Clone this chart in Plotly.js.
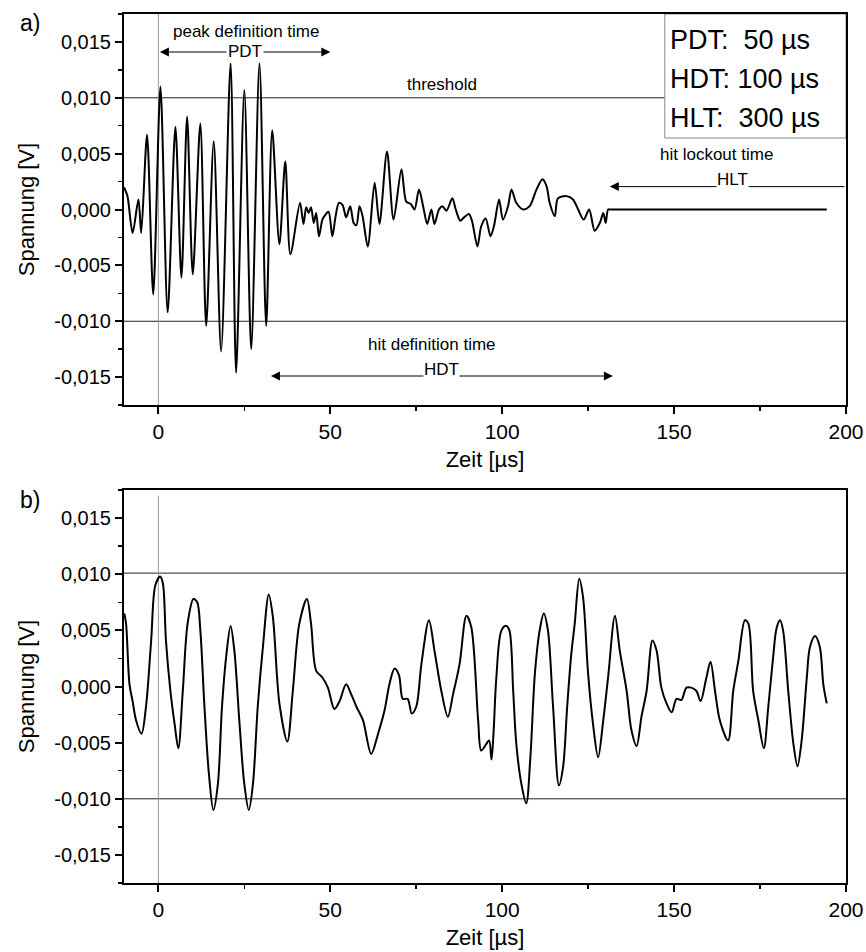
<!DOCTYPE html>
<html>
<head>
<meta charset="utf-8">
<script src="https://cdn.plot.ly/plotly-3.0.1.min.js"></script>
<style>html,body{margin:0;padding:0;background:#fff;}#chart{width:866px;height:952px;}</style>
</head>
<body>
<div id="chart"></div>
<script>
// ---- data ----
const t_a = [-10,-9,-7.5,-5.8,-5.0,-3.3,-1.5,0.6,2.7,4.95,6.7,8.35,10.0,12.2,13.9,16.1,18.25,21.0,22.6,25.0,27.0,29.4,31.35,33.1,35.2,36.9,38.4,41.2,
  42.2,43.0,43.7,44.4,45.2,45.9,46.7,47.7,48.5,49.5,50.6,51.5,52.5,53.6,54.6,55.8,56.8,57.6,58.5,59.4,60.9,62.9,64.3,66.5,68.4,70.7,72.1,73.4,74.5,75.8,77.0,78.2,79.4,80.3,81.6,82.6,83.8,85.5,86.5,87.8,88.9,90.3,91.2,92.8,93.9,95.2,96.6,97.6,99.1,100.2,101.7,102.7,104.1,106.1,108.0,110.0,111.7,112.9,113.8,115.3,116.2,118.7,120.6,122.1,123.7,125.3,126.9,128.4,129.4,130.1,130.8,131.5,194.4];
const v_a = [0.0020,0.0012,-0.0021,0.0009,-0.0021,0.0067,-0.0076,0.0110,-0.0092,0.0074,-0.0061,0.0083,-0.0058,0.0077,-0.0104,0.0061,-0.0127,0.0131,-0.0146,0.0107,-0.0125,0.0131,-0.0104,0.0071,-0.0031,0.0043,-0.0040,0.0006,
  -0.0013,0.0002,-0.0003,0.0002,-0.0012,-0.0003,-0.0024,-0.0009,-0.0005,-0.0002,-0.0024,-0.0007,0.0006,0.0004,-0.0007,0.0003,-0.0012,-0.0014,0.0003,-0.0006,-0.0033,0.0024,-0.0013,0.0052,-0.0009,0.0036,0.0007,0.0005,0.0000,0.0018,0.0003,-0.0013,0.0000,-0.0013,0.0000,0.0003,-0.0001,0.0010,0.0000,-0.0010,-0.0007,-0.0004,-0.0010,-0.0033,-0.0015,-0.0008,-0.0024,-0.0015,0.0009,-0.0009,0.0003,0.0018,0.0006,0.0000,0.0003,0.0018,0.0027,0.0021,0.0006,-0.0006,0.0010,0.0012,0.0009,0.0000,-0.0009,0.0000,-0.0019,-0.0012,-0.0003,-0.0012,0.0000,0.0000,0.0000];

const t_b = [-9.9,-9.4,-8.4,-7.5,-6.5,-4.9,-3.6,-2.1,-0.9,0.5,1.3,2.2,3.5,4.7,5.8,7.1,8.5,10.2,11.3,12.2,13.4,14.7,16.0,17.3,18.5,19.7,21.0,22.1,23.6,25.0,26.3,27.5,28.9,30.4,32.1,33.3,35.2,37.5,39.1,41.0,43.2,44.4,45.9,47.7,49.3,51.2,52.7,54.6,56.1,57.6,59.5,61.9,63.9,65.8,67.2,68.7,70.0,71.1,72.5,73.7,75.0,76.5,78.7,80.3,82.3,84.2,85.7,87.6,89.6,91.0,93.0,93.9,95.4,96.2,96.9,97.5,98.3,99.8,101.2,102.1,103.2,104.1,105.6,107.0,108.2,109.5,110.9,112.1,113.3,114.8,116.5,117.7,118.9,120.1,121.1,122.4,123.5,125.0,126.4,127.9,129.4,130.8,132.8,134.2,136.2,137.6,139.1,140.5,142.0,143.7,144.9,146.3,147.8,149.3,150.7,152.1,153.6,155.0,156.5,157.7,159.4,160.6,161.9,163.3,165.7,167.2,168.7,170.6,171.6,173.0,174.5,176.1,177.4,178.8,179.8,180.8,181.7,183.2,184.7,185.9,187.1,188.6,189.5,191.0,192.4,193.4,194.4];
const v_b = [0.0065,0.0056,0.0002,-0.0013,-0.0030,-0.0042,-0.0018,0.0041,0.0090,0.0098,0.0092,0.0041,-0.0004,-0.0033,-0.0055,-0.0004,0.0056,0.0078,0.0075,0.0050,-0.0018,-0.0078,-0.0110,-0.0087,-0.0018,0.0026,0.0054,0.0032,-0.0033,-0.0087,-0.0110,-0.0087,-0.0018,0.0035,0.0082,0.0062,-0.0015,-0.0049,-0.0004,0.0056,0.0078,0.0056,0.0014,0.0008,-0.0001,-0.0020,-0.0013,0.0002,-0.0007,-0.0018,-0.0030,-0.0060,-0.0042,-0.0021,0.0002,0.0016,0.0010,-0.0011,-0.0011,-0.0024,-0.0018,0.0020,0.0059,0.0032,-0.0004,-0.0027,-0.0007,0.0020,0.0063,0.0053,-0.0030,-0.0057,-0.0051,-0.0048,-0.0065,-0.0040,0.0008,0.0050,0.0054,0.0050,-0.0004,-0.0051,-0.0087,-0.0104,-0.0063,0.0011,0.0050,0.0065,0.0050,-0.0018,-0.0088,-0.0072,-0.0018,0.0029,0.0056,0.0096,0.0080,0.0011,-0.0033,-0.0063,-0.0030,0.0008,0.0063,0.0032,-0.0004,-0.0039,-0.0053,-0.0027,-0.0004,0.0041,0.0032,-0.0001,-0.0015,-0.0023,-0.0011,-0.0012,-0.0001,-0.0001,-0.0004,-0.0013,0.0008,0.0022,-0.0004,-0.0030,-0.0048,-0.0004,0.0023,0.0059,0.0056,-0.0004,-0.0030,-0.0055,-0.0018,0.0026,0.0052,0.0059,0.0050,-0.0004,-0.0051,-0.0071,-0.0048,0.0008,0.0035,0.0045,0.0035,0.0002,-0.0015];

const yTickVals = [-0.015,-0.010,-0.005,0.000,0.005,0.010,0.015];
const yTickText = ['-0,015','-0,010','-0,005','0,000','0,005','0,010','0,015'];
const xTickVals = [0,50,100,150,200];
const xTickText = ['0','50','100','150','200'];
const thresholds_a = [0.010,-0.010];
const thresholds_b = [0.0101,-0.0100];
const times_pdt = [0,50];
const times_hdt = [32.3,132.2];
const times_hlt = [200,131.3];
const boxLines = ['PDT:  50 µs','HDT: 100 µs','HLT:  300 µs'];

// ---- styles ----
const FONT = 'Liberation Sans, Arial, sans-serif';
function xaxisDef(anchor){
  return {anchor:anchor, domain:[0,1], range:[-10,200], tickmode:'array', tickvals:xTickVals, ticktext:xTickText,
    ticks:'outside', ticklen:7, tickwidth:2, tickcolor:'#000', showline:true, linewidth:2, linecolor:'#000', mirror:true,
    showgrid:false, zeroline:false, tickfont:{family:FONT,size:21,color:'#000'},
    minor:{tickmode:'linear', tick0:0, dtick:25, ticks:'outside', ticklen:4, tickwidth:1.5, tickcolor:'#000', showgrid:false},
    title:{text:'Zeit [µs]', font:{family:FONT,size:22,color:'#000'}, standoff:9}};
}
function yaxisDef(anchor, domain){
  return {anchor:anchor, domain:domain, range:[-0.0175,0.0175], tickmode:'array', tickvals:yTickVals, ticktext:yTickText,
    ticks:'outside', ticklen:7, tickwidth:2, tickcolor:'#000', showline:true, linewidth:2, linecolor:'#000', mirror:true,
    showgrid:false, zeroline:false, tickfont:{family:FONT,size:20,color:'#000'},
    minor:{tickmode:'linear', tick0:0, dtick:0.0025, ticks:'outside', ticklen:4, tickwidth:1.5, tickcolor:'#000', showgrid:false},
    title:{text:'Spannung [V]', font:{family:FONT,size:22,color:'#000'}, standoff:14}};
}

const traces = [
  {x:t_a, y:v_a, xaxis:'x', yaxis:'y', mode:'lines', line:{color:'#000', width:2, shape:'spline', smoothing:0.8}, hoverinfo:'skip'},
  {x:t_b, y:v_b, xaxis:'x2', yaxis:'y2', mode:'lines', line:{color:'#000', width:2, shape:'spline', smoothing:0.9}, hoverinfo:'skip'}
];

const shapes = [];
thresholds_a.forEach(v=>shapes.push({type:'line', xref:'x domain', yref:'y', x0:0, x1:1, y0:v, y1:v, line:{color:'#222', width:1}, layer:'below'}));
thresholds_b.forEach(v=>shapes.push({type:'line', xref:'x2 domain', yref:'y2', x0:0, x1:1, y0:v, y1:v, line:{color:'#222', width:1}, layer:'below'}));
shapes.push({type:'line', xref:'x', yref:'y domain', x0:0, x1:0, y0:0, y1:1, line:{color:'#999', width:1}, layer:'below'});
shapes.push({type:'line', xref:'x2', yref:'y2', x0:0, x1:0, y0:-0.0175, y1:0.0170, line:{color:'#999', width:1}, layer:'below'});
shapes.push({type:'rect', xref:'x', yref:'y', x0:147.3, x1:200, y0:0.0064, y1:0.0175, fillcolor:'#fff', line:{color:'#888', width:1}, layer:'above'});

const af = s => ({family:FONT, size:s, color:'#000'});
const arrowStyle = {showarrow:true, arrowhead:2, startarrowhead:2, arrowsize:1.8, startarrowsize:1.8, arrowwidth:1, arrowcolor:'#000'};
const annotations = [
  {xref:'paper', yref:'paper', x:-0.147, y:0.99, xanchor:'left', yanchor:'middle', text:'a)', showarrow:false, font:af(23)},
  {xref:'paper', yref:'paper', x:-0.147, y:0.441, xanchor:'left', yanchor:'middle', text:'b)', showarrow:false, font:af(23)},
  {xref:'x', yref:'y', x:25.6, y:0.0159, text:'peak definition time', showarrow:false, font:af(17)},
  Object.assign({xref:'x', yref:'y', axref:'x', ayref:'y', x:times_pdt[1], y:0.0141, ax:times_pdt[0], ay:0.0141, text:'', arrowside:'end+start'}, arrowStyle),
  {xref:'x', yref:'y', x:25.3, y:0.0141, text:'PDT', showarrow:false, font:af(17), bgcolor:'#fff', borderpad:1},
  {xref:'x', yref:'y', x:82.4, y:0.0112, text:'threshold', showarrow:false, font:af(17)},
  {xref:'x', yref:'y', x:79.5, y:-0.01205, text:'hit definition time', showarrow:false, font:af(17)},
  Object.assign({xref:'x', yref:'y', axref:'x', ayref:'y', x:times_hdt[1], y:-0.0149, ax:times_hdt[0], ay:-0.0149, text:'', arrowside:'end+start'}, arrowStyle),
  {xref:'x', yref:'y', x:82.3, y:-0.01432, text:'HDT', showarrow:false, font:af(17), bgcolor:'#fff', borderpad:0},
  {xref:'x', yref:'y', x:162.2, y:0.0049, text:'hit lockout time', showarrow:false, font:af(17)},
  Object.assign({xref:'x', yref:'y', axref:'x', ayref:'y', x:times_hlt[1], y:0.00205, ax:times_hlt[0], ay:0.00205, text:''}, arrowStyle),
  {xref:'x', yref:'y', x:167.1, y:0.00268, text:'HLT', showarrow:false, font:af(17), bgcolor:'#fff', borderpad:0}
];
const boxY = [0.0152, 0.0117, 0.0082];
boxLines.forEach((s,i)=>annotations.push({xref:'x', yref:'y', x:148.2, y:boxY[i], xanchor:'left', text:s, showarrow:false, font:af(27)}));

const layout = {
  width:866, height:952, margin:{l:124, r:20, t:14, b:69},
  paper_bgcolor:'#fff', plot_bgcolor:'#fff', showlegend:false,
  font:{family:FONT, color:'#000'},
  xaxis:xaxisDef('y'), yaxis:yaxisDef('x',[0.55,1]),
  xaxis2:xaxisDef('y2'), yaxis2:yaxisDef('x2',[0,0.4522]),
  shapes:shapes, annotations:annotations
};
Plotly.newPlot('chart', traces, layout, {staticPlot:true, displayModeBar:false});
</script>
</body>
</html>
